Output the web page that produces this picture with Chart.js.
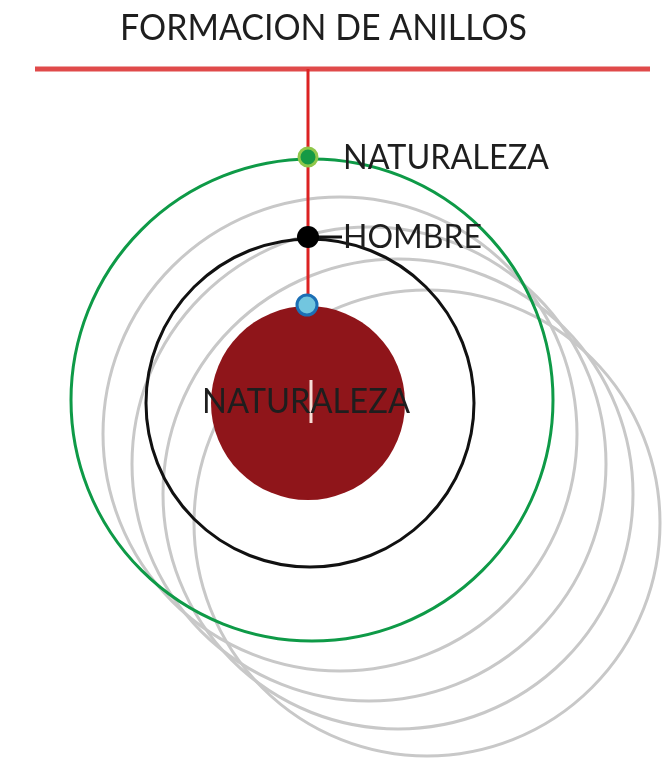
<!DOCTYPE html>
<html>
<head>
<meta charset="utf-8">
<script src="https://cdn.jsdelivr.net/npm/chart.js@4.4.1/dist/chart.umd.min.js"></script>
<style>
  html, body { margin: 0; padding: 0; background: #fff; }
  #wrap { width: 662px; height: 762px; position: relative; }
</style>
</head>
<body>
<div id="wrap"><canvas id="rings"></canvas></div>
<script>
// --- data (diagram units = picture units, y grows downward) ---
const chartTitle = "FORMACION DE ANILLOS";
const labelTexts = ["NATURALEZA", "HOMBRE", "NATURALEZA"];

// grey echo rings drifting down-right
const grayX = [340, 369, 398, 427];
const grayY = [434, 464, 494, 523];
const grayR = [237, 237, 235, 233];

// main rings: naturaleza (green), hombre (black), core (filled)
const ringX = [312, 310, 308];
const ringY = [400, 403, 403];
const ringR = [241, 164, 97];

// markers on the axis: naturaleza, hombre, core
const markerX = [308, 308, 307];
const markerY = [157, 237, 305];

// guide lines
const topLineX = [35, 650];
const topLineY = [69, 69];
const axisLineX = [308, 308];
const axisLineY = [69, 305];
const leaderX = [308, 342];
const leaderY = [237, 237];
const tickX = [311, 311];
const tickY = [380, 423];

const pts = (xs, ys) => xs.map((v, i) => ({ x: v, y: ys[i] }));
const bubbles = (xs, ys, rs) => xs.map((v, i) => ({ x: v, y: ys[i], r: rs[i] }));

const textPlugin = {
    id: "diagramText",
    afterDatasetsDraw(chart, args, opts) {
        const ctx = chart.ctx;
        const sx = chart.scales.x, sy = chart.scales.y;
        opts.items.forEach(t => {
            ctx.save();
            ctx.font = `400 ${t.size}px ${opts.family}`;
            ctx.fillStyle = opts.color;
            ctx.textBaseline = "alphabetic";
            ctx.textAlign = "left";
            const w = ctx.measureText(t.text).width;
            ctx.translate(sx.getPixelForValue(t.x), sy.getPixelForValue(t.y));
            ctx.scale(t.width / w, 1);
            ctx.fillText(t.text, t.center ? -w / 2 : 0, 0);
            ctx.restore();
        });
    }
};

const lineSet = (xs, ys, color, width, order) => ({
    type: "line",
    data: pts(xs, ys),
    borderColor: color,
    borderWidth: width,
    pointRadius: 0,
    fill: false,
    tension: 0,
    order: order
});

const context = document.getElementById("rings").getContext("2d");
const chart = new Chart(context, {
    type: "bubble",
    data: {
        datasets: [
            {
                label: "Anillos",
                data: bubbles(grayX, grayY, grayR),
                backgroundColor: "rgba(0,0,0,0)",
                borderColor: "#c8c8c8",
                borderWidth: 3,
                order: 10
            },
            {
                label: "Naturaleza",
                data: bubbles(ringX.slice(0, 1), ringY.slice(0, 1), ringR.slice(0, 1)),
                backgroundColor: "rgba(0,0,0,0)",
                borderColor: "#0e9a47",
                borderWidth: 3,
                order: 9
            },
            {
                label: "Hombre",
                data: bubbles(ringX.slice(1, 2), ringY.slice(1, 2), ringR.slice(1, 2)),
                backgroundColor: "rgba(0,0,0,0)",
                borderColor: "#111",
                borderWidth: 3,
                order: 8
            },
            {
                label: "Núcleo",
                data: bubbles(ringX.slice(2), ringY.slice(2), ringR.slice(2)),
                backgroundColor: "#8f151a",
                borderColor: "#8f151a",
                borderWidth: 0,
                order: 7
            },
            lineSet(topLineX, topLineY, "#e04a4a", 5, 6),
            lineSet(axisLineX, axisLineY, "#dc2222", 3, 5),
            lineSet(tickX, tickY, "#f7ddd6", 3, 4),
            lineSet(leaderX, leaderY, "#111", 3, 4),
            {
                type: "scatter",
                label: "Marcas",
                data: pts(markerX, markerY),
                pointRadius: [9, 11, 10],
                pointBackgroundColor: ["#159a45", "#000", "#72c6df"],
                pointBorderColor: ["#8fc74a", "#000", "#1c6fb5"],
                pointBorderWidth: [3, 0, 3],
                order: 0
            }
        ]
    },
    options: {
        responsive: true,
        maintainAspectRatio: false,
        animation: false,
        events: [],
        layout: { padding: 0, autoPadding: false },
        scales: {
            x: { type: "linear", min: 0, max: 662, display: false },
            y: { type: "linear", min: 0, max: 762, reverse: true, display: false }
        },
        plugins: {
            legend: { display: false },
            tooltip: { enabled: false },
            diagramText: {
                family: "Lato, 'DejaVu Sans', sans-serif",
                color: "#1e1e1e",
                items: [
                    { text: chartTitle, x: 323.5, y: 40, size: 37, width: 407, center: true },
                    { text: labelTexts[0], x: 343, y: 169, size: 34, width: 206 },
                    { text: labelTexts[1], x: 343, y: 248, size: 33, width: 139 },
                    { text: labelTexts[2], x: 306, y: 413, size: 35, width: 208, center: true }
                ]
            }
        }
    },
    plugins: [textPlugin]
});
</script>
</body>
</html>
